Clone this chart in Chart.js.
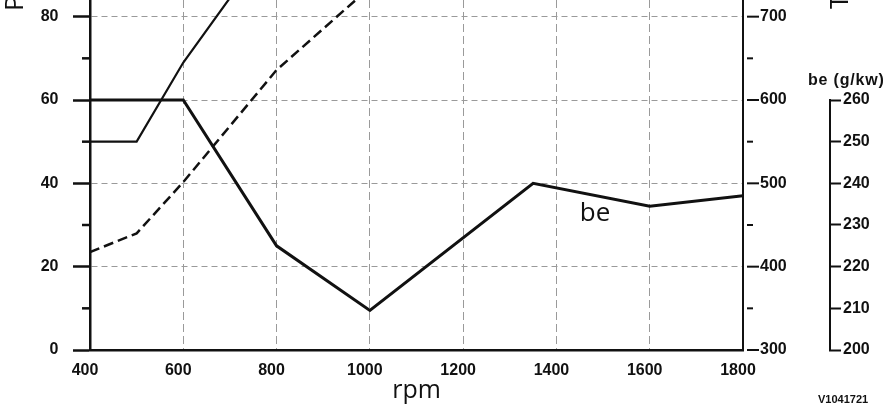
<!DOCTYPE html>
<html><head><meta charset="utf-8">
<script src="https://cdn.jsdelivr.net/npm/chart.js@4"></script>
<style>html,body{margin:0;padding:0;background:#fff;overflow:hidden}canvas{display:block}</style>
</head><body>
<canvas id="c" width="887" height="411"></canvas>
<script>
// ---- data ----
const rpmP = [400, 500, 600, 800, 1000];
const powerKW = [23.5, 28, 40.3, 67.2, 87];
const rpmT = [400, 500, 600, 800];
const torqueNm = [550, 550, 645, 800];
const rpmBe = [400, 600, 800, 1000, 1350, 1600, 1800];
const beGkW = [260, 260, 225, 209.5, 240, 234.5, 237];

const rpmTicks = [400, 600, 800, 1000, 1200, 1400, 1600, 1800];
const pTicks = [0, 20, 40, 60, 80];
const pMinorTicks = [10, 30, 50, 70];
const tTicks = [300, 400, 500, 600, 700];
const tMinorTicks = [350, 450, 550, 650];
const beTicks = [200, 210, 220, 230, 240, 250, 260];

const xTitle = 'rpm';
const pTitle = 'P (kW)';
const tTitle = 'T (Nm)';
const beTitle = 'be (g/kw)';
const beLabel = 'be';
const docId = 'V1041721';

const INK = '#111';
const GRID = '#9a9a9a';
const CLEAR = 'rgba(0,0,0,0)';
const SANS = "'Liberation Sans', Arial, sans-serif";

Chart.defaults.font.family = SANS;
Chart.defaults.font.size = 16;
Chart.defaults.font.weight = 'bold';
Chart.defaults.color = INK;

const pts = (xs, ys) => xs.map((x, i) => ({x, y: ys[i]}));
const setTicks = arr => s => { s.ticks = arr.map(v => ({value: v})); };
const plain = v => String(v);

const extras = {
  id: 'extras',
  afterDraw(chart) {
    const ctx = chart.ctx;
    const {x, y, yT, yBe} = chart.scales;
    ctx.save();
    ctx.strokeStyle = INK;
    ctx.lineCap = 'butt';
    // left minor ticks
    ctx.lineWidth = 2.5;
    pMinorTicks.forEach(v => {
      const py = y.getPixelForValue(v);
      ctx.beginPath(); ctx.moveTo(y.right - 8, py); ctx.lineTo(y.right, py); ctx.stroke();
    });
    // torque axis ticks (detached from the border)
    ctx.lineWidth = 2;
    tTicks.forEach(v => {
      const py = yT.getPixelForValue(v);
      ctx.beginPath(); ctx.moveTo(yT.left + 4, py); ctx.lineTo(yT.left + 16, py); ctx.stroke();
    });
    tMinorTicks.forEach(v => {
      const py = yT.getPixelForValue(v);
      ctx.beginPath(); ctx.moveTo(yT.left + 4, py); ctx.lineTo(yT.left + 10, py); ctx.stroke();
    });
    // be axis line, only over its tick range
    const b0 = yBe.getPixelForValue(beTicks[0]);
    const b1 = yBe.getPixelForValue(beTicks[beTicks.length - 1]);
    ctx.beginPath(); ctx.moveTo(yBe.left + 1, b0 + 1); ctx.lineTo(yBe.left + 1, b1 - 1); ctx.stroke();

    ctx.fillStyle = INK;
    // "be" curve label
    ctx.font = "normal 26px 'Open Sans', sans-serif";
    ctx.textAlign = 'left'; ctx.textBaseline = 'alphabetic';
    ctx.fillText(beLabel, x.getPixelForValue(1450), yBe.getPixelForValue(231));
    // be axis heading
    ctx.font = "bold 16px " + SANS;
    ctx.letterSpacing = '0.8px';
    ctx.fillText(beTitle, 808, 85);
    ctx.letterSpacing = '0px';
    // document id
    ctx.font = "bold 11px " + SANS;
    ctx.fillText(docId, 818, 403);
    // rotated axis titles (mostly above the picture)
    ctx.font = "normal 26px 'Open Sans', sans-serif";
    ctx.save(); ctx.translate(23, 11); ctx.rotate(-Math.PI / 2); ctx.fillText(pTitle, 0, 0); ctx.restore();
    ctx.save(); ctx.translate(848, 9); ctx.rotate(-Math.PI / 2); ctx.fillText(tTitle, 0, 0); ctx.restore();
    ctx.restore();
  }
};

new Chart(document.getElementById('c'), {
  type: 'line',
  data: {
    datasets: [
      { label: 'P', data: pts(rpmP, powerKW), yAxisID: 'y', borderColor: INK, borderWidth: 2.5,
        borderDash: [10, 5], pointRadius: 0, tension: 0, fill: false },
      { label: 'T', data: pts(rpmT, torqueNm), yAxisID: 'yT', borderColor: INK, borderWidth: 2.2,
        pointRadius: 0, tension: 0, fill: false },
      { label: 'be', data: pts(rpmBe, beGkW), yAxisID: 'yBe', borderColor: INK, borderWidth: 3,
        pointRadius: 0, tension: 0, fill: false }
    ]
  },
  options: {
    responsive: false,
    animation: false,
    devicePixelRatio: 1,
    layout: { padding: 0 },
    plugins: { legend: { display: false }, tooltip: { enabled: false } },
    scales: {
      x: {
        type: 'linear', position: 'bottom', min: 400, max: 1800,
        afterBuildTicks: setTicks(rpmTicks),
        ticks: { padding: 11, labelOffset: -5, color: INK, callback: plain },
        grid: { drawTicks: false, lineWidth: 1,
          color: c => (c.tick && (c.tick.value === 400 || c.tick.value === 1800)) ? CLEAR : GRID },
        border: { color: INK, width: 2.5, dash: [8, 4] },
        title: { display: true, text: xTitle, color: INK,
          font: { family: "'Open Sans', sans-serif", size: 25, weight: 'normal' },
          padding: { top: 0, bottom: 5 } },
        afterFit: s => { s.height = 61; s.paddingLeft = 0; s.paddingRight = 0; }
      },
      y: {
        type: 'linear', position: 'left', min: 0, max: 84,
        afterBuildTicks: setTicks(pTicks),
        ticks: { padding: 14.5, color: INK, callback: plain },
        grid: { drawTicks: true, tickLength: 17, tickWidth: 2.5, tickColor: INK, lineWidth: 1,
          color: c => (c.tick && c.tick.value === 0) ? CLEAR : GRID },
        border: { color: INK, width: 2.5, dash: [6, 4] },
        afterFit: s => { s.width = 90; s.paddingTop = 0; s.paddingBottom = 0; }
      },
      yT: {
        type: 'linear', position: 'right', weight: 1, min: 300, max: 720,
        afterBuildTicks: setTicks(tTicks),
        ticks: { padding: 17, color: INK, callback: plain },
        grid: { drawOnChartArea: false, drawTicks: false },
        border: { display: true, color: INK, width: 2 },
        afterFit: s => { s.width = 86; s.paddingTop = 0; s.paddingBottom = 0; }
      },
      yBe: {
        type: 'linear', position: 'right', weight: 2, min: 200, max: 284,
        afterBuildTicks: setTicks(beTicks),
        ticks: { padding: 2, color: INK, callback: plain },
        grid: { drawOnChartArea: false, drawTicks: true, tickLength: 12, tickWidth: 2, tickColor: INK },
        border: { display: false },
        afterFit: s => { s.width = 58; s.paddingTop = 0; s.paddingBottom = 0; }
      }
    }
  },
  plugins: [extras]
});
</script>
</body></html>
